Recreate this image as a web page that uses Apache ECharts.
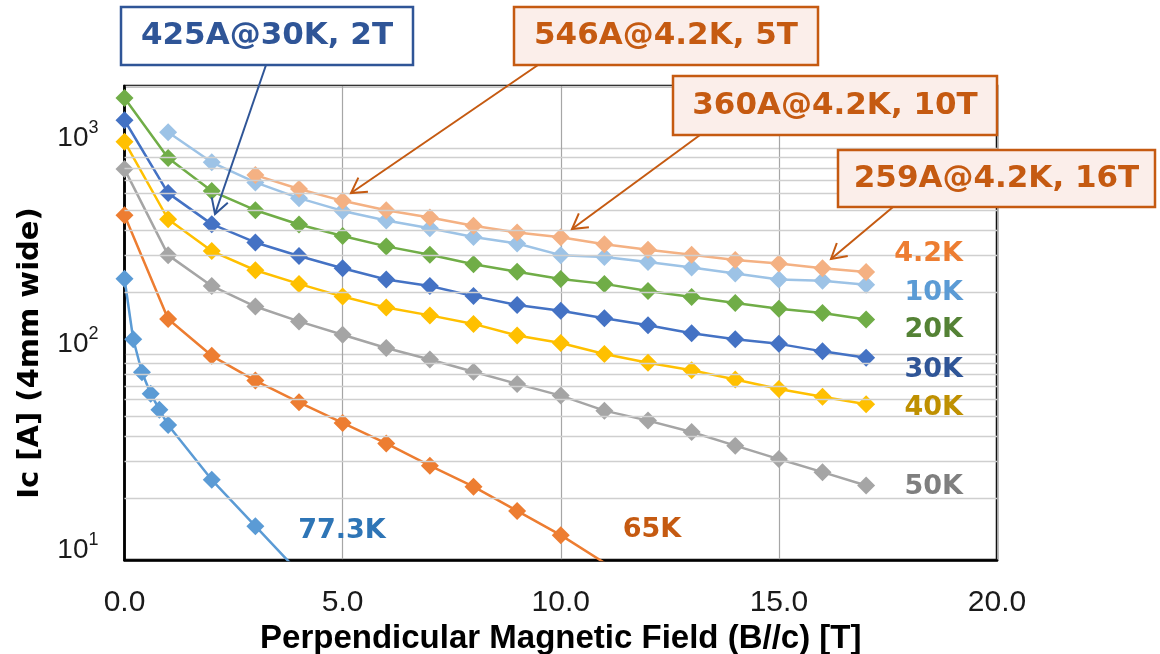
<!DOCTYPE html>
<html>
<head>
<meta charset="utf-8">
<title>Ic vs B</title>
<script src="https://cdn.jsdelivr.net/npm/echarts@6/dist/echarts.min.js"></script>
<style>
  html, body { margin: 0; padding: 0; background: #fff; }
  #main { width: 1160px; height: 654px; }
</style>
</head>
<body>
<div id="main"></div>
<script>
// field values [T] for each curve
const field0to17 = [0, 1, 2, 3, 4, 5, 6, 7, 8, 9, 10, 11, 12, 13, 14, 15, 16, 17];
const field1to17 = [1, 2, 3, 4, 5, 6, 7, 8, 9, 10, 11, 12, 13, 14, 15, 16, 17];
const field3to17 = [3, 4, 5, 6, 7, 8, 9, 10, 11, 12, 13, 14, 15, 16, 17];
const field65K = [0, 1, 2, 3, 4, 5, 6, 7, 8, 9, 10, 11];
const field77K = [0, 0.2, 0.4, 0.6, 0.8, 1, 2, 3, 4];

// Ic [A]
const ic4p2K = [739, 632, 554, 499, 460, 419, 389, 369, 341, 321, 303, 286, 275, 261, 250];
const ic10K = [1192, 852, 681, 571, 495, 445, 408, 370, 344, 302, 296, 280, 263, 246, 230, 227, 217];
const ic20K = [1751, 894, 618, 499, 425, 374, 333, 303, 273, 251, 231, 219, 202, 189, 177, 166, 158, 147];
const ic30K = [1364, 604, 427, 348, 299, 261, 230, 214, 191, 173, 162, 149, 138, 126, 118, 112, 103, 96];
const ic40K = [1073, 451, 316, 255, 219, 190, 168, 154, 140, 123, 113, 100, 90.6, 83.4, 75.2, 67.7, 62, 57];
const ic50K = [790, 302, 214, 170, 144, 124, 107, 94, 82, 71.6, 62.8, 53.1, 47.5, 41.8, 35.9, 30.9, 26.7, 23];
const ic65K = [472, 148, 98, 74.3, 58.3, 46.3, 36.8, 28.7, 22.7, 17.3, 13.2, 9.7];
const ic77K = [232, 118, 81.5, 64.2, 53.7, 45.2, 24.5, 14.6, 8.7];

// minor grid lines of the log axis
const minorGrid = [20, 30, 40, 50, 60, 70, 80, 90, 200, 300, 400, 500, 600, 700, 800, 900];

const chart = echarts.init(document.getElementById('main'), null, { renderer: 'canvas' });

function pairs(xs, ys) {
  return xs.map((x, i) => [x, ys[i]]);
}

function curve(name, xs, ys, color) {
  return {
    name: name,
    type: 'line',
    data: pairs(xs, ys),
    symbol: 'diamond',
    symbolSize: 18,
    color: color,
    lineStyle: { width: 2.5, color: color },
    itemStyle: { color: color },
    clip: true,
    z: 3
  };
}

// arrow = line + open head
function arrow(x1, y1, x2, y2, color) {
  const a = Math.atan2(y2 - y1, x2 - x1);
  const len = 17, spread = Math.PI / 6;
  const h1 = [x2 - len * Math.cos(a - spread), y2 - len * Math.sin(a - spread)];
  const h2 = [x2 - len * Math.cos(a + spread), y2 - len * Math.sin(a + spread)];
  return [
    { type: 'line', shape: { x1: x1, y1: y1, x2: x2, y2: y2 }, style: { stroke: color, lineWidth: 2 }, z: 10 },
    { type: 'polyline', shape: { points: [h1, [x2, y2], h2] }, style: { stroke: color, lineWidth: 2, fill: null }, z: 10 }
  ];
}

function box(x, y, w, h, text, stroke, fill) {
  return [
    { type: 'rect', shape: { x: x, y: y, width: w, height: h }, style: { fill: fill, stroke: stroke, lineWidth: 2.5 }, z: 11 },
    {
      type: 'text', x: x + w / 2, y: y + h / 2, z: 12,
      style: { text: text, fill: stroke, font: 'bold 31px "DejaVu Sans"', align: 'center', verticalAlign: 'middle' }
    }
  ];
}

function tag(text, x, y, color, align) {
  return {
    type: 'text', x: x, y: y, z: 12,
    style: { text: text, fill: color, font: 'bold 27px "DejaVu Sans"', align: align || 'right', verticalAlign: 'middle' }
  };
}

const orangeDark = '#c55a11';
const pink = '#fbeeea';
const navy = '#2f5597';

const graphics = [].concat(
  arrow(266, 65, 215, 214, navy),
  arrow(538, 65, 351, 193, orangeDark),
  arrow(700, 135, 572, 229, orangeDark),
  arrow(893, 207, 831, 259, orangeDark),
  box(121, 7, 292, 58, '425A@30K, 2T', navy, '#ffffff'),
  box(514, 7, 304, 58, '546A@4.2K, 5T', orangeDark, pink),
  box(673, 76, 324, 59, '360A@4.2K, 10T', orangeDark, pink),
  box(838, 150, 317, 57, '259A@4.2K, 16T', orangeDark, pink),
  [
    tag('4.2K', 963, 254, '#ed7d31'),
    tag('10K', 963, 293, '#5b9bd5'),
    tag('20K', 963, 330, '#548235'),
    tag('30K', 963, 370, navy),
    tag('40K', 963, 408, '#bf9000'),
    tag('50K', 963, 487, '#7f7f7f'),
    tag('77.3K', 342, 531, '#2e75b6', 'center'),
    tag('65K', 652, 530, orangeDark, 'center')
  ]
);

var option = {
  backgroundColor: '#ffffff',
  animation: false,
  grid: {
    left: 124.5,
    right: 163,
    top: 86,
    bottom: 94,
    outerBoundsMode: 'none',
    containLabel: false,
    show: true,
    borderColor: '#000',
    borderWidth: 2.5,
    backgroundColor: 'transparent'
  },
  xAxis: {
    type: 'value',
    min: 0,
    max: 20,
    interval: 5,
    name: 'Perpendicular Magnetic Field (B//c) [T]',
    nameLocation: 'middle',
    nameGap: 52,
    nameTextStyle: { fontFamily: 'Liberation Sans', fontWeight: 'bold', fontSize: 33, color: '#000' },
    axisLine: { show: true, lineStyle: { color: '#000', width: 2.5 } },
    axisTick: { show: false },
    axisLabel: {
      margin: 28,
      fontFamily: 'Liberation Sans',
      fontSize: 30,
      color: '#1a1a1a',
      formatter: v => v.toFixed(1)
    },
    splitLine: { show: true, lineStyle: { color: '#a6a6a6', width: 1.2 } }
  },
  yAxis: {
    type: 'log',
    logBase: 10,
    min: 10,
    max: 2000,
    name: 'Ic [A] (4mm wide)',
    nameLocation: 'middle',
    nameGap: 80,
    nameTextStyle: { fontFamily: 'DejaVu Sans', fontWeight: 'bold', fontSize: 29, color: '#000', padding: [0, 60, 0, 0] },
    axisLine: { show: true, lineStyle: { color: '#000', width: 2.5 } },
    axisTick: { show: false },
    axisLabel: {
      margin: 26,
      verticalAlign: 'middle',
      padding: [0, 0, 20, 0],
      color: '#1a1a1a',
      formatter: function (v) {
        const e = Math.log10(v);
        if (Math.abs(e - Math.round(e)) > 1e-6) return '';
        return '{b|10}{s|' + Math.round(e) + '}';
      },
      rich: {
        b: { fontFamily: 'Liberation Sans', fontSize: 28, color: '#1a1a1a' },
        s: { fontFamily: 'Liberation Sans', fontSize: 18, color: '#1a1a1a', padding: [0, 0, 20, 0] }
      }
    },
    splitLine: { show: true, lineStyle: { color: '#cfcfcf', width: 1.3 } }
  },
  series: [
    {
      // carries the minor grid of the log axis
      name: 'grid',
      type: 'line',
      data: [],
      z: 1,
      silent: true,
      markLine: {
        silent: true,
        symbol: ['none', 'none'],
        label: { show: false },
        lineStyle: { color: '#cfcfcf', width: 1.3, type: 'solid' },
        data: minorGrid.map(v => ({ yAxis: v }))
      }
    },
    curve('77.3K', field77K, ic77K, '#5b9bd5'),
    curve('65K', field65K, ic65K, '#ed7d31'),
    curve('50K', field0to17, ic50K, '#a5a5a5'),
    curve('40K', field0to17, ic40K, '#ffc000'),
    curve('30K', field0to17, ic30K, '#4472c4'),
    curve('20K', field0to17, ic20K, '#70ad47'),
    curve('10K', field1to17, ic10K, '#9dc3e6'),
    curve('4.2K', field3to17, ic4p2K, '#f4b183')
  ],
  graphic: graphics
};

chart.setOption(option);
</script>
</body>
</html>
